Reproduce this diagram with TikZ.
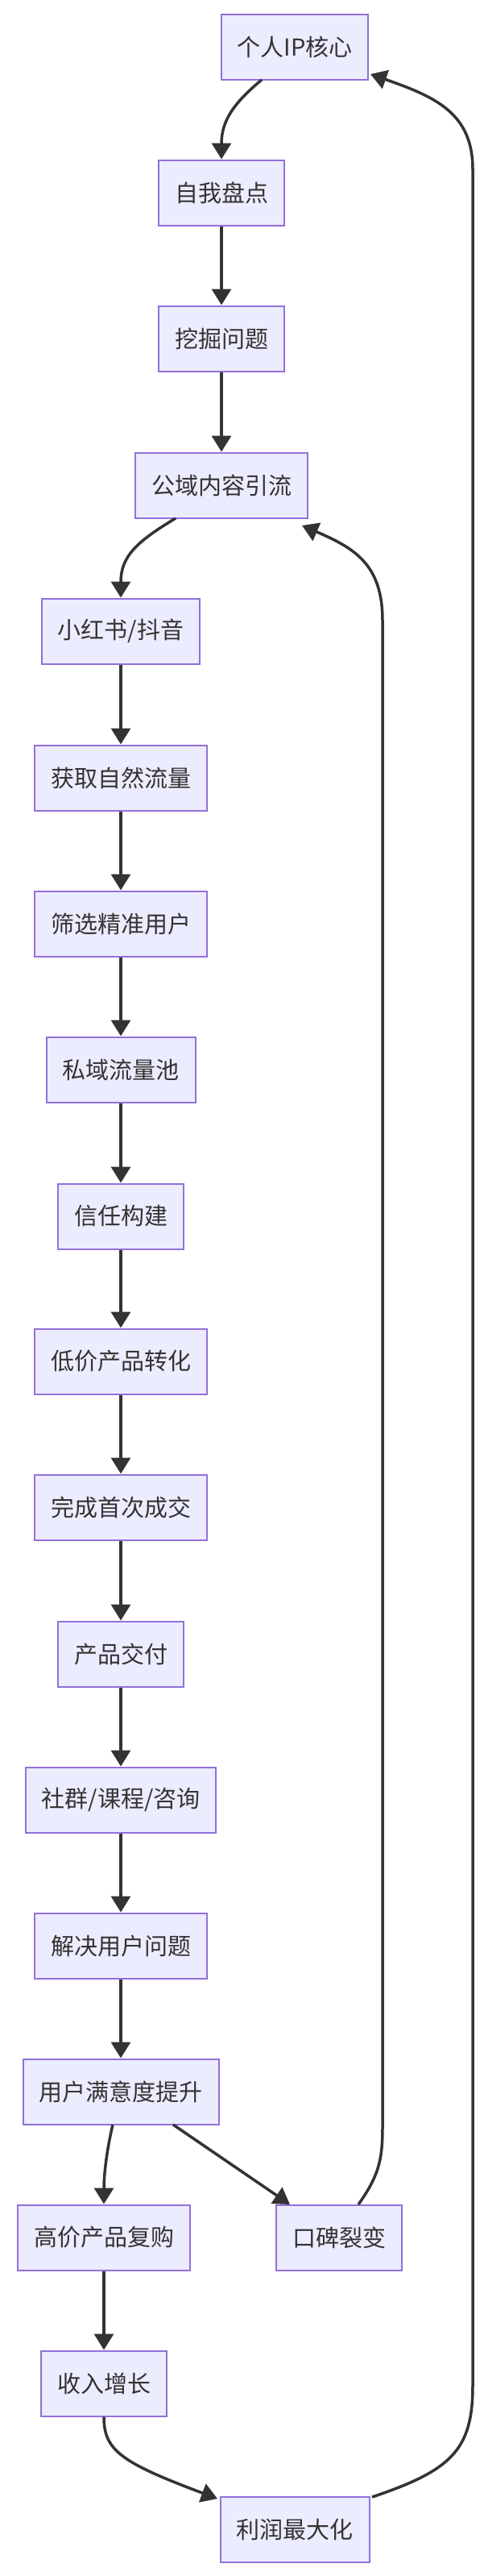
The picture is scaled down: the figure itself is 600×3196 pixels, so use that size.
\documentclass[tikz,border=0pt]{standalone}
\usepackage{fontspec}
\setmainfont{Noto Sans CJK SC}
\usetikzlibrary{arrows.meta}
\definecolor{nfill}{HTML}{ECECFF}
\definecolor{nline}{HTML}{9370DB}
\definecolor{eline}{HTML}{333333}
\begin{document}
\begin{tikzpicture}[x=1pt,y=-1pt,
  box/.style={draw=nline,fill=nfill,line width=2pt,minimum height=81pt,inner xsep=20pt,text=eline,font=\fontsize{29}{34}\selectfont},
  e/.style={draw=eline,line width=3.5pt,-{Triangle[length=20pt,width=24pt]}}]
\useasboundingbox (0,0) rectangle (600,3196);
\node[box] (a) at (366,58) {个人IP核心};
\node[box] (b) at (275,239) {自我盘点};
\node[box] (c) at (275,420) {挖掘问题};
\node[box] (d) at (275,602) {公域内容引流};
\node[box] (e1) at (150,783) {小红书/抖音};
\node[box] (f) at (150,965) {获取自然流量};
\node[box] (g) at (150,1146) {筛选精准用户};
\node[box] (h) at (150,1327) {私域流量池};
\node[box] (i) at (150,1509) {信任构建};
\node[box] (j) at (150,1689) {低价产品转化};
\node[box] (k) at (150,1870) {完成首次成交};
\node[box] (l) at (150,2052) {产品交付};
\node[box] (m) at (150,2233) {社群/课程/咨询};
\node[box] (n) at (150,2414) {解决用户问题};
\node[box] (o) at (150,2595) {用户满意度提升};
\node[box] (p) at (129,2776) {高价产品复购};
\node[box] (q) at (421,2776) {口碑裂变};
\node[box] (r) at (129,2957) {收入增长};
\node[box] (s) at (366,3138) {利润最大化};
\draw[e] (325,99) .. controls (290,128) and (275,150) .. (b.north);
\draw[e] (b) -- (c);
\draw[e] (c) -- (d);
\draw[e] (218,643) .. controls (170,672) and (150,690) .. (e1.north);
\draw[e] (e1) -- (f);
\draw[e] (f) -- (g);
\draw[e] (g) -- (h);
\draw[e] (h) -- (i);
\draw[e] (i) -- (j);
\draw[e] (j) -- (k);
\draw[e] (k) -- (l);
\draw[e] (l) -- (m);
\draw[e] (m) -- (n);
\draw[e] (n) -- (o);
\draw[e] (140,2636) .. controls (132,2670) and (129,2700) .. (p.north);
\draw[e] (215,2636) -- (360,2735);
\draw[e] (p) -- (r);
\draw[e] (r.south) .. controls (129,3040) and (150,3055) .. (270,3100);
\draw[e] (445,2735) .. controls (470,2700) and (475,2680) .. (475,2640) -- (475,770) .. controls (475,700) and (440,680) .. (375,652);
\draw[e] (462,3098) .. controls (560,3065) and (587,3040) .. (587,2960) -- (587,210) .. controls (587,140) and (540,120) .. (460,92);
\end{tikzpicture}
\end{document}
